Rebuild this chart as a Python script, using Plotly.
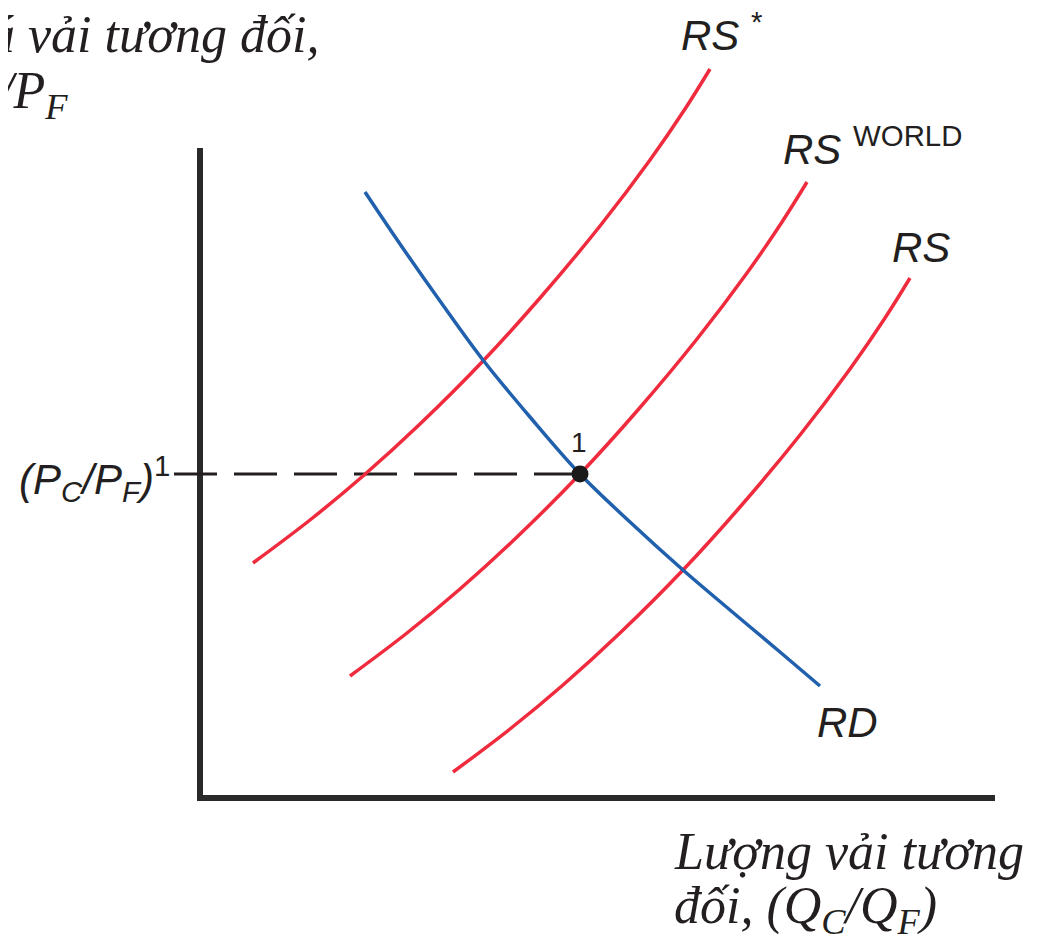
import plotly.graph_objects as go

# Relative quantity of cloth (x) and relative price of cloth (y), arbitrary units
rs_star_x = [5.3, 11.0, 16.3, 22.0, 28.3, 34.0, 40.0, 45.0, 48.5, 51.0]
rs_star_y = [23.5, 27.8, 32.2, 37.4, 43.7, 50.0, 57.2, 63.8, 68.9, 72.9]

rs_world_x = [15.0, 20.7, 26.0, 31.7, 38.0, 43.7, 49.7, 54.7, 58.2, 60.7]
rs_world_y = [12.2, 16.5, 20.9, 26.1, 32.4, 38.7, 45.9, 52.5, 57.6, 61.6]

rs_x = [25.3, 31.0, 36.3, 42.0, 48.3, 54.0, 60.0, 65.0, 68.5, 71.0]
rs_y = [2.6, 6.9, 11.3, 16.5, 22.8, 29.1, 36.3, 42.9, 48.0, 52.0]

rd_x = [16.5, 20.0, 24.0, 28.3, 33.0, 38.0, 43.0, 48.3, 53.0, 58.0, 62.0]
rd_y = [60.6, 55.4, 49.7, 43.8, 38.1, 32.4, 27.6, 22.8, 18.8, 14.6, 11.2]

eq_x = [38.0]
eq_y = [32.4]

axis_x_max = 79.5
axis_y_max = 65.0

RED = "#ef2b3d"
BLUE = "#2060ad"
INK = "#231f20"

fig = go.Figure()

# axes
fig.add_trace(go.Scatter(x=[0, 0, axis_x_max], y=[axis_y_max, 0, 0], mode="lines",
                         line=dict(color="#2a2a2a", width=6), hoverinfo="skip"))
# dashed guide to equilibrium price
fig.add_trace(go.Scatter(x=[-2.6, eq_x[0]], y=[eq_y[0], eq_y[0]], mode="lines",
                         line=dict(color=INK, width=3, dash="43px,17px"), hoverinfo="skip"))

for xs, ys, col in [(rs_star_x, rs_star_y, RED), (rs_world_x, rs_world_y, RED),
                    (rs_x, rs_y, RED), (rd_x, rd_y, BLUE)]:
    fig.add_trace(go.Scatter(x=xs, y=ys, mode="lines",
                             line=dict(color=col, width=3.5, shape="spline", smoothing=1.0),
                             hoverinfo="skip"))

fig.add_trace(go.Scatter(x=eq_x, y=eq_y, mode="markers",
                         marker=dict(color="#1a1a1a", size=17), hoverinfo="skip"))

sans = "Liberation Sans, Arial, sans-serif"
serif = "Liberation Serif, Times New Roman, serif"

def ann(x, y, text, size, family, xanchor="center", yanchor="middle", align="left"):
    fig.add_annotation(x=x, y=y, xref="x", yref="y", text=text, showarrow=False,
                       font=dict(size=size, family=family, color=INK),
                       xanchor=xanchor, yanchor=yanchor, align=align)

ann(47.9, 76.6, "<i>RS</i> <sup>*</sup>", 42, sans, xanchor="left")
ann(58.1, 65.2, "<i>RS</i> <sup>WORLD</sup>", 42, sans, xanchor="left")
ann(72.1, 55.1, "<i>RS</i>", 42, sans)
ann(64.7, 7.6, "<i>RD</i>", 42, sans)
ann(37.9, 35.6, "1", 28, sans)
ann(-2.8, 32.0, "<i>(P<sub>C</sub>/P<sub>F</sub>)</i><sup>1</sup>", 42, sans, xanchor="right")

ann(12.2, 76.4, "<i>Giá vải tương đối,</i>", 52, serif, xanchor="right")
ann(-13.0, 70.4, "<i>P<sub>C</sub>/P<sub>F</sub></i>", 52, serif, xanchor="right")
ann(47.2, -5.3, "<i>Lượng vải tương</i>", 52, serif, xanchor="left")
ann(47.2, -11.1, "<i>đối, (Q<sub>C</sub>/Q<sub>F</sub>)</i>", 52, serif, xanchor="left")

# page body has an 8px margin; figure is sized and ranged so data maps onto the page
fig.update_layout(
    width=1032, height=934, autosize=False,
    margin=dict(l=0, r=0, t=0, b=0, pad=0),
    paper_bgcolor="white", plot_bgcolor="white",
    showlegend=False,
    xaxis=dict(range=[-19.2, 84], visible=False, fixedrange=True),
    yaxis=dict(range=[-14.4, 79.0], visible=False, fixedrange=True),
)

fig.write_html("out.html")
